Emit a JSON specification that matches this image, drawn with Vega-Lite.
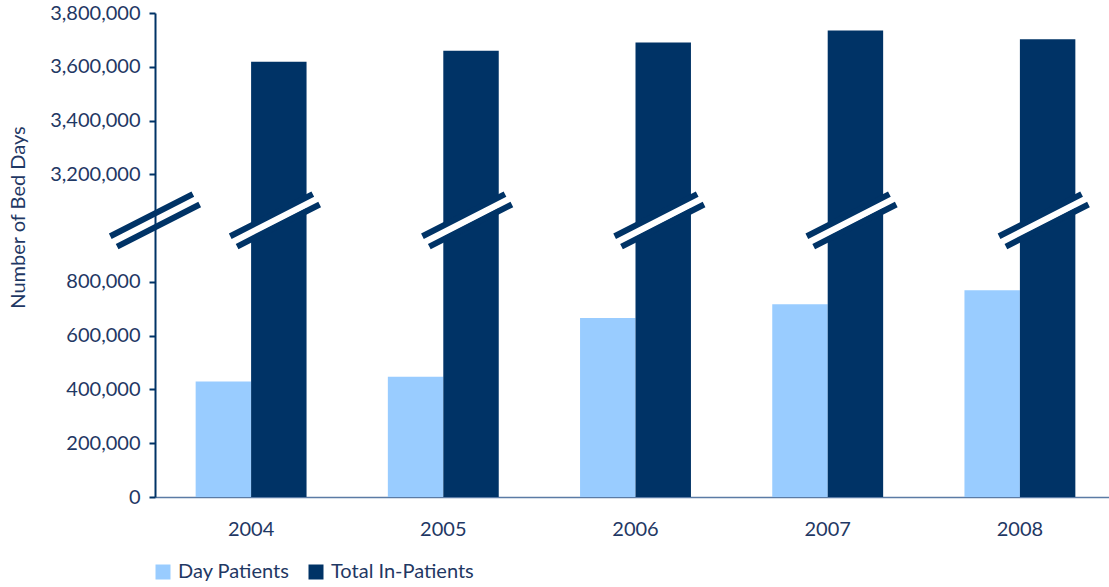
{
  "$schema": "https://vega.github.io/schema/vega-lite/v6.json",
  "width": 954,
  "height": 484,
  "autosize": {"type": "none"},
  "padding": {"left": 155, "top": 13, "right": 0, "bottom": 90},
  "background": "white",
  "config": {"view": {"stroke": null}, "font": "Lato"},
  "datasets": {
    "bars": [
      {"year": "2004", "series": "Day Patients", "value": 429000},
      {"year": "2005", "series": "Day Patients", "value": 447000},
      {"year": "2006", "series": "Day Patients", "value": 665000},
      {"year": "2007", "series": "Day Patients", "value": 717000},
      {"year": "2008", "series": "Day Patients", "value": 769000},
      {"year": "2004", "series": "Total In-Patients", "value": 3619000},
      {"year": "2005", "series": "Total In-Patients", "value": 3660000},
      {"year": "2006", "series": "Total In-Patients", "value": 3690000},
      {"year": "2007", "series": "Total In-Patients", "value": 3735000},
      {"year": "2008", "series": "Total In-Patients", "value": 3702000}
    ],
    "breaks": [
      {"year": "2004", "series": "Total In-Patients", "kind": "axis", "at": 3030000},
      {"year": "2004", "series": "Total In-Patients", "kind": "bar", "at": 3030000},
      {"year": "2005", "series": "Total In-Patients", "kind": "bar", "at": 3030000},
      {"year": "2006", "series": "Total In-Patients", "kind": "bar", "at": 3030000},
      {"year": "2007", "series": "Total In-Patients", "kind": "bar", "at": 3030000},
      {"year": "2008", "series": "Total In-Patients", "kind": "bar", "at": 3030000}
    ]
  },
  "layer": [
    {
      "data": {"name": "bars"},
      "mark": {"type": "bar"},
      "encoding": {
        "x": {
          "field": "year", "type": "nominal",
          "scale": {"range": [0, 961], "paddingInner": 0.423, "paddingOuter": 0.2115},
          "axis": {
            "title": null, "labelAngle": 0, "labelFontSize": 20, "labelColor": "#1F3864",
            "ticks": false, "labelPadding": 22, "domainColor": "#5B7BA5", "domainWidth": 1.5
          }
        },
        "xOffset": {"field": "series", "type": "nominal", "sort": ["Day Patients", "Total In-Patients"]},
        "y": {
          "field": "value", "type": "quantitative",
          "scale": {"domain": [0, 1000000, 3000000, 3800000], "range": [484, 215, 215, 0], "nice": false, "zero": false},
          "axis": {
            "title": "Number of Bed Days",
            "values": [0, 200000, 400000, 600000, 800000, 3200000, 3400000, 3600000, 3800000],
            "format": ",.0f", "grid": false,
            "labelFontSize": 20, "labelColor": "#1F3864", "labelPadding": 9,
            "domainColor": "#003366", "domainWidth": 2,
            "tickColor": "#003366", "tickWidth": 2, "tickSize": 6,
            "titleFontSize": 20, "titleFontWeight": "normal", "titleColor": "#1F3864",
            "titleX": -137, "titleY": 204, "titleAngle": -90, "titleBaseline": "middle", "titleAlign": "center"
          }
        },
        "color": {
          "field": "series", "type": "nominal",
          "scale": {"domain": ["Day Patients", "Total In-Patients"], "range": ["#99CCFF", "#003366"]},
          "legend": {
            "orient": "none", "legendX": -2, "legendY": 549, "direction": "horizontal",
            "title": null, "symbolType": "square", "symbolSize": 225, "symbolStrokeWidth": 0,
            "labelFontSize": 20, "labelColor": "#1F3864", "columnPadding": 16, "labelOffset": 5
          }
        }
      }
    },
    {
      "data": {"name": "breaks"},
      "transform": [{"filter": "datum.kind == 'bar'"}],
      "mark": {"type": "point", "filled": false, "color": "white", "strokeWidth": 8, "size": 7396, "opacity": 1,
               "shape": "M -1.0 0.47 L 0.82 -0.47"},
      "encoding": {
        "x": {"field": "year", "type": "nominal"},
        "xOffset": {"field": "series", "type": "nominal"},
        "y": {"field": "at", "type": "quantitative"}
      }
    },
    {
      "data": {"name": "breaks"},
      "mark": {"type": "point", "filled": false, "color": "#003366", "strokeWidth": 6, "size": 7396, "opacity": 1},
      "encoding": {
        "x": {"field": "year", "type": "nominal"},
        "xOffset": {"field": "series", "type": "nominal"},
        "y": {"field": "at", "type": "quantitative"},
        "shape": {
          "field": "kind", "type": "nominal",
          "scale": {"domain": ["axis", "bar"], "range": [
            "M -3.92 0.38 L -2.0 -0.6 M -3.76 0.62 L -1.84 -0.36",
            "M -1.13 0.38 L 0.79 -0.6 M -0.97 0.62 L 0.95 -0.36"
          ]},
          "legend": null
        }
      }
    }
  ]
}
